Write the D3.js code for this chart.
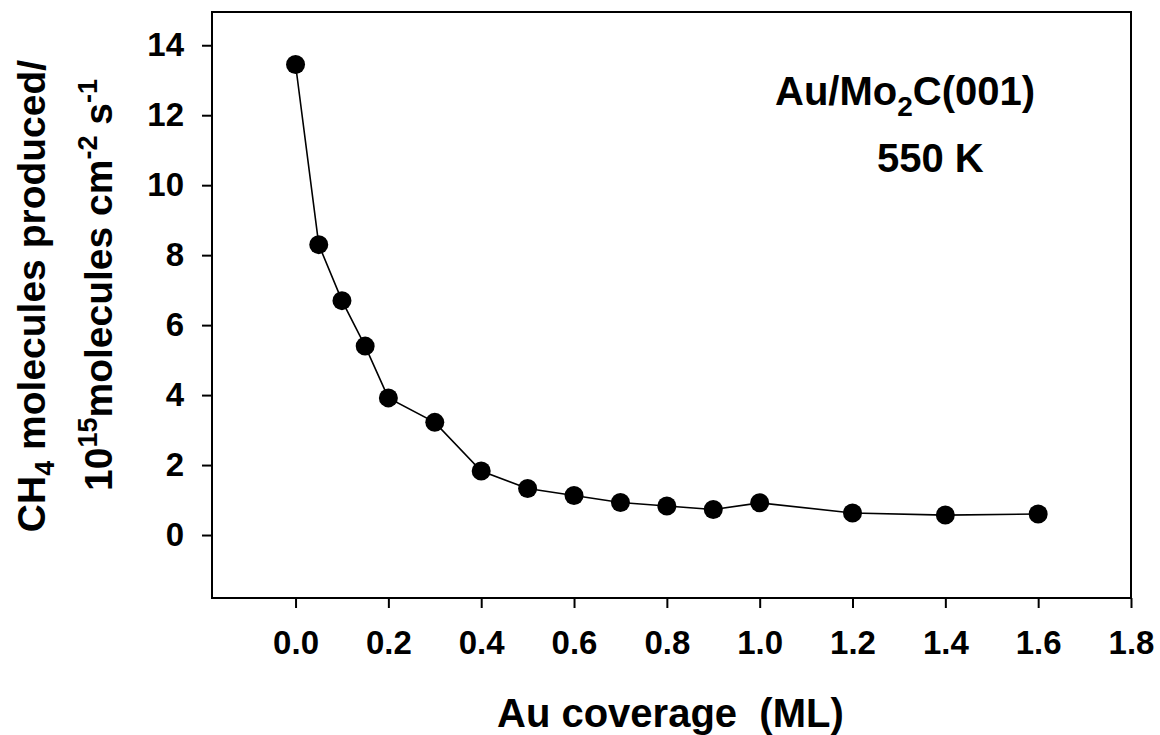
<!DOCTYPE html>
<html>
<head>
<meta charset="utf-8">
<script src="https://cdn.jsdelivr.net/npm/d3@7"></script>
<style>
  html, body { margin: 0; padding: 0; background: #fff; }
  svg { display: block; font-family: "Liberation Sans", Arial, sans-serif; font-weight: bold; }
</style>
</head>
<body>
<svg id="chart" width="1160" height="735"></svg>
<script>
// Data
const coverage = [0.0, 0.05, 0.1, 0.15, 0.2, 0.3, 0.4, 0.5, 0.6, 0.7, 0.8, 0.9, 1.0, 1.2, 1.4, 1.6];
const ch4Rate = [13.45, 8.3, 6.7, 5.4, 3.92, 3.22, 1.83, 1.33, 1.13, 0.93, 0.83, 0.73, 0.92, 0.63, 0.57, 0.6];
const xTicks = [0.0, 0.2, 0.4, 0.6, 0.8, 1.0, 1.2, 1.4, 1.6, 1.8];
const yTicks = [0, 2, 4, 6, 8, 10, 12, 14];

const margin = { top: 12, right: 29, bottom: 137, left: 212 };
const width = 1160, height = 735;

const svg = d3.select("#chart");

const x = d3.scaleLinear().domain([-0.18, 1.8]).range([margin.left, width - margin.right]);
const y = d3.scaleLinear().domain([-1.8, 14.95]).range([height - margin.bottom, margin.top]);

// Axes
const xAxis = svg.append("g")
  .attr("transform", `translate(0,${height - margin.bottom})`)
  .call(d3.axisBottom(x).tickValues(xTicks).tickFormat(d3.format(".1f"))
    .tickSize(10).tickSizeOuter(0).tickPadding(23));

const yAxis = svg.append("g")
  .attr("transform", `translate(${margin.left},0)`)
  .call(d3.axisLeft(y).tickValues(yTicks).tickFormat(d3.format("d"))
    .tickSize(10).tickSizeOuter(0).tickPadding(18));

[xAxis, yAxis].forEach(g => {
  g.select(".domain").remove();
  g.selectAll(".tick line").attr("stroke", "#000").attr("stroke-width", 2);
  g.selectAll(".tick text")
    .attr("fill", "#000")
    .style("font-size", "33px")
    .style("font-weight", "bold")
    .style("font-family", "'Liberation Sans', Arial, sans-serif");
});

// Frame
svg.append("rect")
  .attr("x", margin.left).attr("y", margin.top)
  .attr("width", width - margin.left - margin.right)
  .attr("height", height - margin.top - margin.bottom)
  .attr("fill", "none").attr("stroke", "#000").attr("stroke-width", 2);

// Line + markers
const pts = coverage.map((c, i) => ({ c, v: ch4Rate[i] }));

svg.append("path")
  .datum(pts)
  .attr("fill", "none").attr("stroke", "#000").attr("stroke-width", 1.6)
  .attr("d", d3.line().x(d => x(d.c)).y(d => y(d.v)));

svg.selectAll("circle.pt")
  .data(pts).enter().append("circle")
  .attr("class", "pt")
  .attr("cx", d => x(d.c)).attr("cy", d => y(d.v))
  .attr("r", 9.5).attr("fill", "#000");

// X title
svg.append("text")
  .attr("x", 497).attr("y", 727)
  .style("font-size", "40px")
  .attr("xml:space", "preserve")
  .text("Au coverage  (ML)");

// Y title
const yt = svg.append("g").attr("transform", "rotate(-90)");
const l1 = yt.append("text").attr("x", -296).attr("y", 45)
  .attr("text-anchor", "middle").style("font-size", "39px");
l1.append("tspan").text("CH");
l1.append("tspan").attr("dy", 9).style("font-size", "27px").text("4");
l1.append("tspan").attr("dy", -9).text(" molecules produced/");

const l2 = yt.append("text").attr("x", -285).attr("y", 112)
  .attr("text-anchor", "middle").style("font-size", "39px");
l2.append("tspan").text("10");
l2.append("tspan").attr("dy", -15).style("font-size", "27px").text("15");
l2.append("tspan").attr("dy", 15).text("molecules cm");
l2.append("tspan").attr("dy", -15).style("font-size", "27px").text("-2");
l2.append("tspan").attr("dy", 15).text(" s");
l2.append("tspan").attr("dy", -15).style("font-size", "27px").text("-1");

// Annotation
const a1 = svg.append("text").attr("x", 775).attr("y", 105).style("font-size", "40px");
a1.append("tspan").text("Au/Mo");
a1.append("tspan").attr("dy", 11).style("font-size", "28px").text("2");
a1.append("tspan").attr("dy", -11).text("C(001)");

svg.append("text").attr("x", 877).attr("y", 172).style("font-size", "40px").text("550 K");
</script>
</body>
</html>
